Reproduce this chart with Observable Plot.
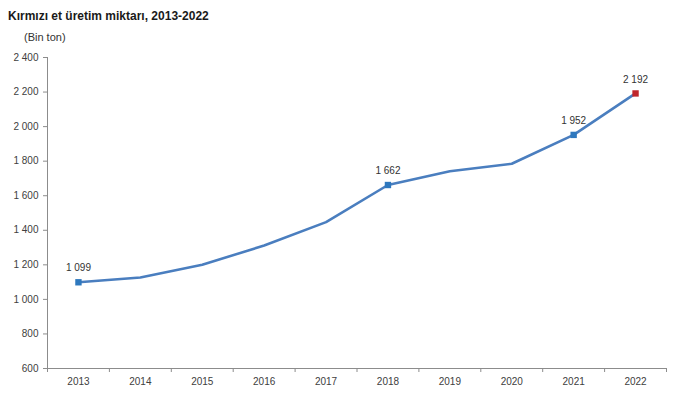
<!DOCTYPE html>
<html>
<head>
<meta charset="utf-8">
<script src="https://cdn.jsdelivr.net/npm/d3@7"></script>
<script src="https://cdn.jsdelivr.net/npm/@observablehq/plot@0.6"></script>
<style>
  body { margin: 0; background: #fff; font-family: "Liberation Sans", Arial, sans-serif; }
  #wrap { position: relative; width: 700px; height: 396px; }
  #title { position: absolute; left: 8px; top: 9px; font-size: 12px; font-weight: bold; color: #1a1a1a; z-index: 2; }
  #unit { position: absolute; left: 24px; top: 31px; font-size: 11px; color: #333; z-index: 2; }
  #chart { position: absolute; left: 0; top: 28px; z-index: 1; }
</style>
</head>
<body>
<div id="wrap">
  <div id="title">Kırmızı et üretim miktarı, 2013-2022</div>
  <div id="unit">(Bin ton)</div>
  <div id="chart"></div>
</div>
<script>
const years = [2013, 2014, 2015, 2016, 2017, 2018, 2019, 2020, 2021, 2022];
const production = [1099, 1127, 1200, 1312, 1447, 1662, 1742, 1785, 1952, 2192];
const labelledYears = [2013, 2018, 2021, 2022];
const highlightYear = 2022;
const yTicks = [600, 800, 1000, 1200, 1400, 1600, 1800, 2000, 2200, 2400];

const data = years.map((y, i) => ({year: y, value: production[i]}));
const labelled = data.filter(d => labelledYears.includes(d.year));
const boundaries = [years[0] - 0.5, ...years.map(y => y + 0.5)];
const fmt = v => d3.format(",")(v).replace(/,/g, " ");

const chart = Plot.plot({
  width: 700,
  height: 368,
  marginTop: 29,
  marginBottom: 28,
  marginLeft: 47,
  marginRight: 34,
  style: {fontFamily: "'Liberation Sans', Arial, sans-serif", fontSize: "10px", color: "#404040", background: "transparent"},
  x: {domain: [years[0] - 0.5, years[years.length - 1] + 0.5]},
  y: {domain: [600, 2400]},
  marks: [
    Plot.axisY({ticks: yTicks, tickFormat: fmt, tickSize: 4, tickPadding: 5, stroke: "#8c8c8c", label: null, fill: "#404040"}),
    Plot.axisX({ticks: years, tickFormat: d => String(d), tickSize: 0, tickPadding: 9, label: null, fill: "#404040"}),
    Plot.axisX({ticks: boundaries, tickFormat: () => "", tickSize: 4, stroke: "#8c8c8c", label: null}),
    Plot.ruleX([years[0] - 0.5], {stroke: "#8c8c8c"}),
    Plot.ruleY([600], {stroke: "#8c8c8c"}),
    Plot.line(data, {x: "year", y: "value", stroke: "#4a7ebf", strokeWidth: 2.6}),
    Plot.dot(labelled, {x: "year", y: "value", symbol: "square", r: 3.6, stroke: null,
      fill: d => d.year === highlightYear ? "#c0262c" : "#2e78be"}),
    Plot.text(labelled, {x: "year", y: "value", text: d => fmt(d.value), dy: -14, fill: "#333", fontSize: 10})
  ]
});
document.getElementById("chart").appendChild(chart);
</script>
</body>
</html>
